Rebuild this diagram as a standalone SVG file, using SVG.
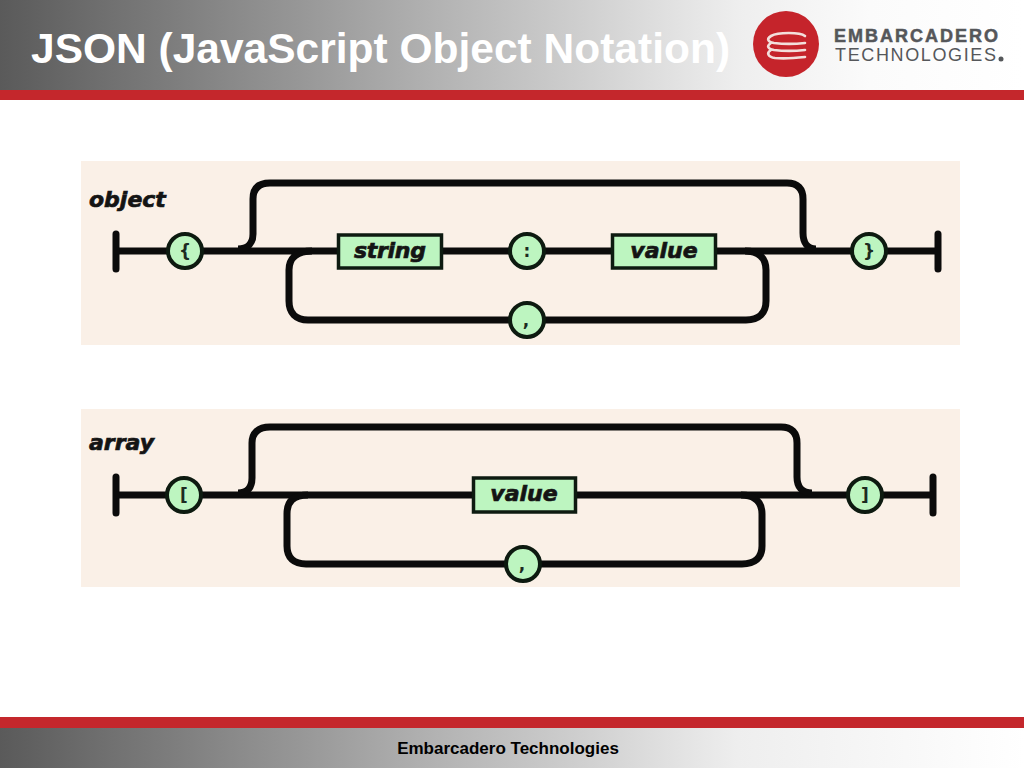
<svg xmlns="http://www.w3.org/2000/svg" width="1024" height="768" viewBox="0 0 1024 768">
<style>
.panel{fill:#faf0e7}
.ln{fill:none;stroke:#0b0b0b;stroke-width:7}
.bar{fill:none;stroke:#0b0b0b;stroke-width:7;stroke-linecap:round}
.nd{fill:#bdf5c0;stroke:#0d1a10;stroke-width:4}
.rc{fill:#bdf5c0;stroke:#0d1a10;stroke-width:3.5}
.lb{font-family:"DejaVu Sans",Verdana,sans-serif;font-weight:bold;font-style:italic;font-size:22px;fill:#141414;stroke:#141414;stroke-width:.7}
.sy{font-family:"DejaVu Sans",sans-serif;font-weight:bold;font-size:17px;text-anchor:middle;fill:#1c2a20}
</style>
<defs>
<linearGradient id="gt" x1="0" x2="1" y1="0" y2="0"><stop offset="0" stop-color="#5a5a5a"/><stop offset="0.35" stop-color="#a3a3a3"/><stop offset="0.72" stop-color="#eeeeee"/><stop offset="0.85" stop-color="#fbfbfb"/><stop offset="1" stop-color="#ffffff"/></linearGradient>
<linearGradient id="gb" x1="0" x2="1" y1="0" y2="0"><stop offset="0" stop-color="#5a5a5a"/><stop offset="0.35" stop-color="#a3a3a3"/><stop offset="0.72" stop-color="#eeeeee"/><stop offset="1" stop-color="#ffffff"/></linearGradient>
</defs>
<rect width="1024" height="768" fill="#fff"/>
<g id="header">
<rect width="1024" height="90" fill="url(#gt)"/>
<rect y="90" width="1024" height="10" fill="#c4272c"/>
<text x="31" y="63" font-family="'Liberation Sans',Arial,sans-serif" font-size="42.5" font-weight="bold" fill="#fff">JSON (JavaScript Object Notation)</text>
</g>
<g id="logo">
<circle cx="786" cy="44" r="33" fill="#c5242b"/>
<g fill="none" stroke="#f3dfdc" stroke-width="2.6" stroke-linecap="round">
<path d="M805 36C800 32 778 32 771 36C766 39 768 42 774 43C782 44 796 44 805 43"/>
<path d="M771 43C766 46 768 49 774 50C782 51 796 51 805 50"/>
<path d="M771 50C766 53 768 57 775 58C784 59 796 58 805 57"/>
</g>
<text x="834" y="42" font-family="'Liberation Sans',Arial,sans-serif" font-size="18" font-weight="bold" fill="#55575a" stroke="#55575a" stroke-width=".5" textLength="164" lengthAdjust="spacing">EMBARCADERO</text>
<text x="835" y="61" font-family="'Liberation Sans',Arial,sans-serif" font-size="18" fill="#55575a" textLength="161" lengthAdjust="spacing">TECHNOLOGIES</text>
<circle cx="1001" cy="59" r="2.5" fill="#55575a"/>
</g>
<g id="footer">
<rect y="717" width="1024" height="11" fill="#c4272c"/>
<rect y="728" width="1024" height="40" fill="url(#gb)"/>
<text x="508" y="754" font-family="'Liberation Sans',Arial,sans-serif" font-size="17" font-weight="bold" text-anchor="middle" fill="#000">Embarcadero Technologies</text>
</g>
<rect class="panel" x="81" y="161" width="879" height="184"/>
<rect class="panel" x="81" y="409" width="879" height="178"/>
<g id="connectors">
<path class="bar" d="M116 234V269M938 234V269M116 477V513M933 477V513"/>
<path class="ln" d="M116 251H938"/>
<path class="ln" d="M238 249C248 249 253 243 253 234V199C253 189 258 183 270 183H787C798 183 803 189 803 199V233C803 243 808 249 816 249"/>
<path class="ln" d="M312 251C297 251 289 258 289 270V301C289 313 296 320 308 320H746C759 320 766 313 766 301V270C766 258 759 251 745 251"/>
<path class="ln" d="M116 495H933"/>
<path class="ln" d="M238 493C248 493 252 487 252 478V443C252 433 258 427 270 427H781C792 427 797 433 797 443V477C797 487 802 493 812 493"/>
<path class="ln" d="M308 495C293 495 287 502 287 514V546C287 558 294 564 306 564H742C755 564 762 558 762 546V514C762 502 755 495 741 495"/>
</g>
<g id="object-label"><text class="lb" x="89" y="207">object</text></g>
<g id="object-open"><circle class="nd" cx="185" cy="251" r="17"/><text class="sy" x="185" y="257">{</text></g>
<g id="object-string"><rect class="rc" x="338.500" y="235" width="103" height="33"/><text class="lb" x="390" y="258" text-anchor="middle" textLength="72">string</text></g>
<g id="object-colon"><circle class="nd" cx="527" cy="251" r="17"/><text class="sy" x="527" y="257">:</text></g>
<g id="object-value"><rect class="rc" x="612.500" y="235" width="103" height="33"/><text class="lb" x="664" y="258" text-anchor="middle">value</text></g>
<g id="object-comma"><circle class="nd" cx="527" cy="320" r="17"/><text class="sy" x="526" y="326">,</text></g>
<g id="object-close"><circle class="nd" cx="869" cy="251" r="17"/><text class="sy" x="869" y="257">}</text></g>
<g id="array-label"><text class="lb" x="89" y="450">array</text></g>
<g id="array-open"><circle class="nd" cx="184" cy="495" r="17"/><text class="sy" x="184" y="501">[</text></g>
<g id="array-value"><rect class="rc" x="473.500" y="478" width="102" height="34"/><text class="lb" x="524" y="501" text-anchor="middle">value</text></g>
<g id="array-comma"><circle class="nd" cx="523" cy="564" r="17"/><text class="sy" x="522" y="570">,</text></g>
<g id="array-close"><circle class="nd" cx="865" cy="495" r="17"/><text class="sy" x="865" y="501">]</text></g>
</svg>
